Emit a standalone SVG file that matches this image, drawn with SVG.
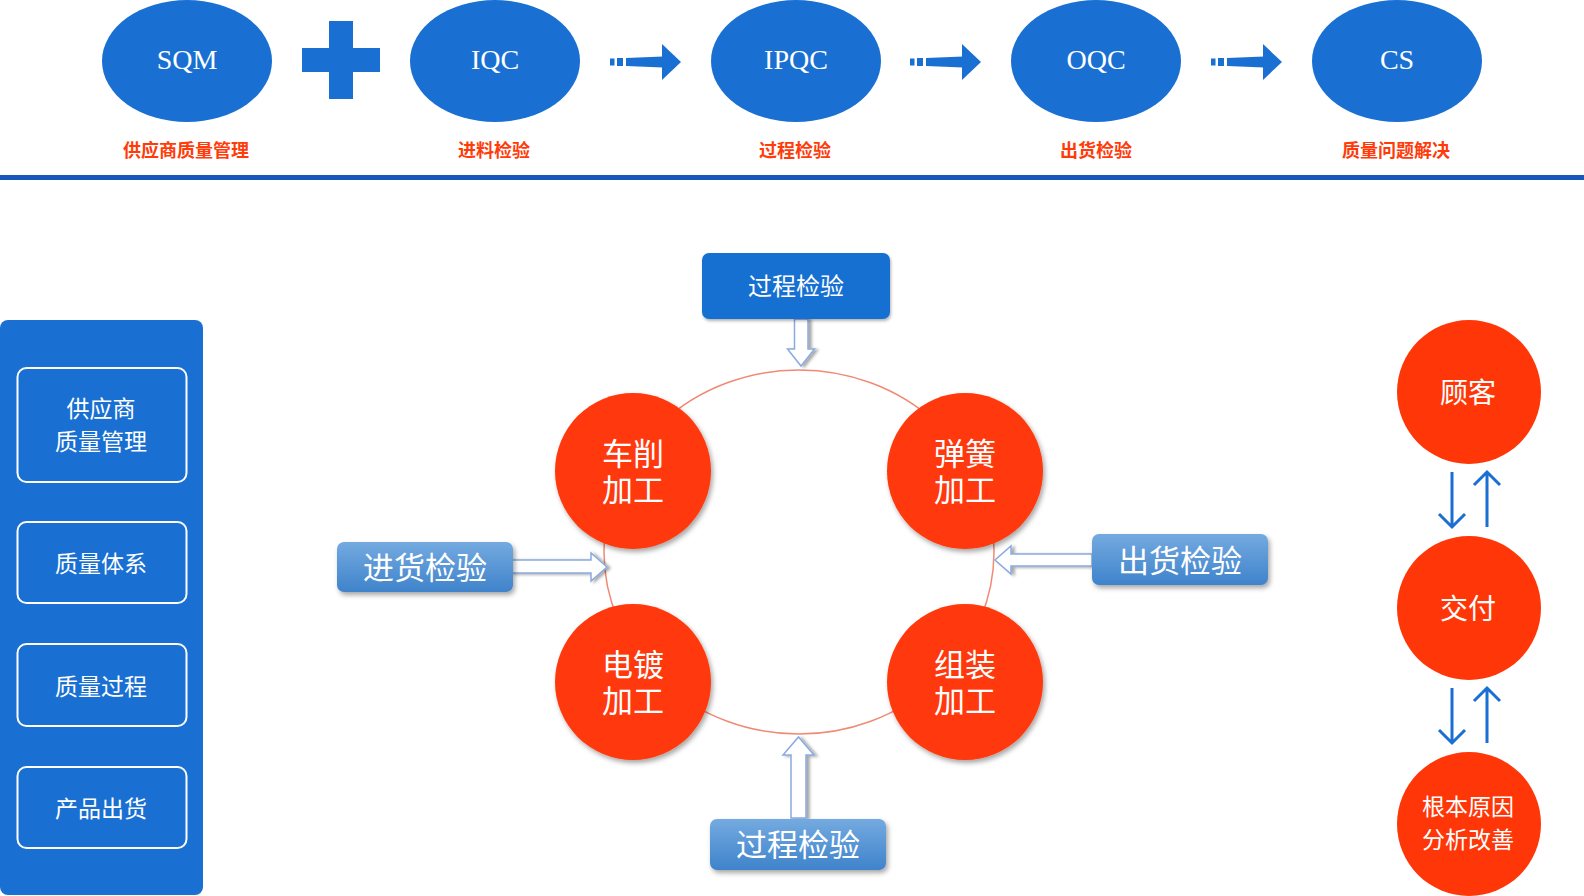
<svg xmlns="http://www.w3.org/2000/svg" width="1584" height="896" viewBox="0 0 1584 896">
<defs>
<style>
.ell{fill:#1970D2}
.etxt{font-family:"Liberation Serif","DejaVu Serif",serif;font-size:28px;fill:#fff;text-anchor:middle}
.rlab{font-family:"Noto Sans CJK SC",sans-serif;font-weight:bold;font-size:18px;fill:#FF3B0A;text-anchor:middle;dominant-baseline:central}
.flow{fill:#1970D2}
.pbox{fill:none;stroke:#fff;stroke-width:2}
.ptxt{font-family:"Noto Sans CJK SC",sans-serif;font-size:23px;fill:#fff;text-anchor:middle;dominant-baseline:central}
.red{fill:#FF3708}
.ctxt{font-family:"Liberation Sans","Noto Sans CJK SC",sans-serif;font-size:31px;fill:#fff;text-anchor:middle;dominant-baseline:central}
.rtxt{font-family:"Noto Sans CJK SC",sans-serif;font-size:28px;fill:#fff;text-anchor:middle;dominant-baseline:central}
.rtxt2{font-family:"Liberation Sans","Noto Sans CJK SC",sans-serif;font-size:23px;fill:#fff;text-anchor:middle;dominant-baseline:central}
.gbox{fill:url(#bg)}
.btxt{font-family:"Noto Sans CJK SC",sans-serif;font-size:31px;fill:#fff;text-anchor:middle;dominant-baseline:central}
.hollow{fill:#fff;stroke:#8AAAE0;stroke-width:1.5}
.varr{fill:none;stroke:#1A6FD2;stroke-width:3}
</style>
<linearGradient id="bg" x1="0" y1="0" x2="0" y2="1">
<stop offset="0" stop-color="#74AAE0"/>
<stop offset="1" stop-color="#3F83CB"/>
</linearGradient>
<filter id="sh" x="-20%" y="-20%" width="140%" height="150%">
<feDropShadow dx="2" dy="3" stdDeviation="2.5" flood-color="#000" flood-opacity="0.35"/>
</filter>
<filter id="shs" x="-20%" y="-20%" width="140%" height="150%">
<feDropShadow dx="1" dy="2" stdDeviation="1.5" flood-color="#000" flood-opacity="0.3"/>
</filter>
<filter id="sha" x="-50%" y="-20%" width="200%" height="150%">
<feDropShadow dx="3" dy="1" stdDeviation="1.5" flood-color="#000" flood-opacity="0.35"/>
</filter>
</defs>
<rect width="1584" height="896" fill="#fff"/>

<!-- top flow -->
<g id="sqm"><ellipse class="ell" cx="187" cy="61" rx="85" ry="61"/><text class="etxt" x="187" y="69">SQM</text><text class="rlab" x="186" y="149">供应商质量管理</text></g>
<g id="iqc"><ellipse class="ell" cx="495" cy="61" rx="85" ry="61"/><text class="etxt" x="495" y="69">IQC</text><text class="rlab" x="494" y="149">进料检验</text></g>
<g id="ipqc"><ellipse class="ell" cx="796" cy="61" rx="85" ry="61"/><text class="etxt" x="796" y="69">IPQC</text><text class="rlab" x="795" y="149">过程检验</text></g>
<g id="oqc"><ellipse class="ell" cx="1096" cy="61" rx="85" ry="61"/><text class="etxt" x="1096" y="69">OQC</text><text class="rlab" x="1096" y="149">出货检验</text></g>
<g id="cs"><ellipse class="ell" cx="1397" cy="61" rx="85" ry="61"/><text class="etxt" x="1397" y="69">CS</text><text class="rlab" x="1396" y="149">质量问题解决</text></g>
<rect id="topline" x="0" y="175" width="1584" height="5" fill="#1A57BA"/>

<g id="connectors">
<g id="plus" class="flow"><rect x="302" y="48" width="78" height="24"/><rect x="329" y="21" width="24" height="78"/></g>
<g id="dash1" class="flow"><rect x="610" y="58.5" width="4.5" height="7"/><rect x="617" y="58" width="6" height="8"/><polygon points="626,58 663,56.5 663,67.5 626,66"/><polygon points="662,44 681,62 662,80"/></g>
<g id="dash2" class="flow" transform="translate(300,0)"><rect x="610" y="58.5" width="4.5" height="7"/><rect x="617" y="58" width="6" height="8"/><polygon points="626,58 663,56.5 663,67.5 626,66"/><polygon points="662,44 681,62 662,80"/></g>
<g id="dash3" class="flow" transform="translate(601,0)"><rect x="610" y="58.5" width="4.5" height="7"/><rect x="617" y="58" width="6" height="8"/><polygon points="626,58 663,56.5 663,67.5 626,66"/><polygon points="662,44 681,62 662,80"/></g>
<ellipse id="ring" cx="799" cy="552" rx="195" ry="182" fill="none" stroke="#EF8A74" stroke-width="1.5"/>
<path class="hollow" filter="url(#sha)" d="M794.5,319 L808,319 L808,349 L814.5,349 L801,366 L787.5,349 L794.5,349 Z"/>
<path class="hollow" filter="url(#sha)" d="M791,818 L791,755 L783,755 L798.5,737 L814,755 L806,755 L806,818 Z"/>
<path class="hollow" filter="url(#sha)" d="M511,560 L591,560 L591,553 L607,567 L591,581 L591,573 L511,573 Z"/>
<path class="hollow" filter="url(#sha)" d="M1092,554 L1011,554 L1011,546 L995,560 L1011,574 L1011,566 L1092,566 Z"/>
<g id="rarrows">
<path class="varr" d="M1452,472 V527 M1439,514 L1452,527 L1465,514"/>
<path class="varr" d="M1487,527 V472 M1474,485 L1487,472 L1500,485"/>
<path class="varr" d="M1452,688 V743 M1439,730 L1452,743 L1465,730"/>
<path class="varr" d="M1487,743 V688 M1474,701 L1487,688 L1500,701"/>
</g>
</g>

<!-- left panel -->
<g id="panel">
<rect x="0" y="320" width="203" height="575" rx="8" fill="#1970D2"/>
<g id="p1"><rect class="pbox" x="17.5" y="368" width="169" height="114" rx="9"/><text class="ptxt"><tspan x="101" y="407">供应商</tspan><tspan x="101" y="440">质量管理</tspan></text></g>
<g id="p2"><rect class="pbox" x="17.5" y="522" width="169" height="81" rx="9"/><text class="ptxt" x="101" y="562">质量体系</text></g>
<g id="p3"><rect class="pbox" x="17.5" y="644" width="169" height="82" rx="9"/><text class="ptxt" x="101" y="685">质量过程</text></g>
<g id="p4"><rect class="pbox" x="17.5" y="767" width="169" height="81" rx="9"/><text class="ptxt" x="101" y="807">产品出货</text></g>
</g>

<!-- center -->
<g id="top-inspect"><rect x="702" y="253" width="188" height="66" rx="7" fill="#1970D2" filter="url(#shs)"/><text class="ptxt" style="font-size:24px" x="796" y="284">过程检验</text></g>
<g id="in-inspect"><rect class="gbox" x="337" y="542" width="176" height="50" rx="7" filter="url(#sh)"/><text class="btxt" x="425" y="565">进货检验</text></g>
<g id="out-inspect"><rect class="gbox" x="1092" y="534" width="176" height="51" rx="7" filter="url(#sh)"/><text class="btxt" x="1180" y="558">出货检验</text></g>
<g id="bottom-inspect"><rect class="gbox" x="710" y="819" width="176" height="51" rx="7" filter="url(#sh)"/><text class="btxt" x="798" y="842">过程检验</text></g>

<g id="turning"><circle class="red" cx="633" cy="471" r="78" filter="url(#sh)"/><text class="ctxt"><tspan x="633" y="454">车削</tspan><tspan x="633" y="490">加工</tspan></text></g>
<g id="spring"><circle class="red" cx="965" cy="471" r="78" filter="url(#sh)"/><text class="ctxt"><tspan x="965" y="454">弹簧</tspan><tspan x="965" y="490">加工</tspan></text></g>
<g id="plating"><circle class="red" cx="633" cy="682" r="78" filter="url(#sh)"/><text class="ctxt"><tspan x="633" y="665">电镀</tspan><tspan x="633" y="701">加工</tspan></text></g>
<g id="assembly"><circle class="red" cx="965" cy="682" r="78" filter="url(#sh)"/><text class="ctxt"><tspan x="965" y="665">组装</tspan><tspan x="965" y="701">加工</tspan></text></g>

<!-- right column -->
<g id="customer"><circle class="red" cx="1469" cy="392" r="72"/><text class="rtxt" x="1468" y="391">顾客</text></g>
<g id="delivery"><circle class="red" cx="1469" cy="608" r="72"/><text class="rtxt" x="1468" y="607">交付</text></g>
<g id="rootcause"><circle class="red" cx="1469" cy="824" r="72"/><text class="rtxt2"><tspan x="1468" y="807">根本原因</tspan><tspan x="1468" y="840">分析改善</tspan></text></g>
</svg>
